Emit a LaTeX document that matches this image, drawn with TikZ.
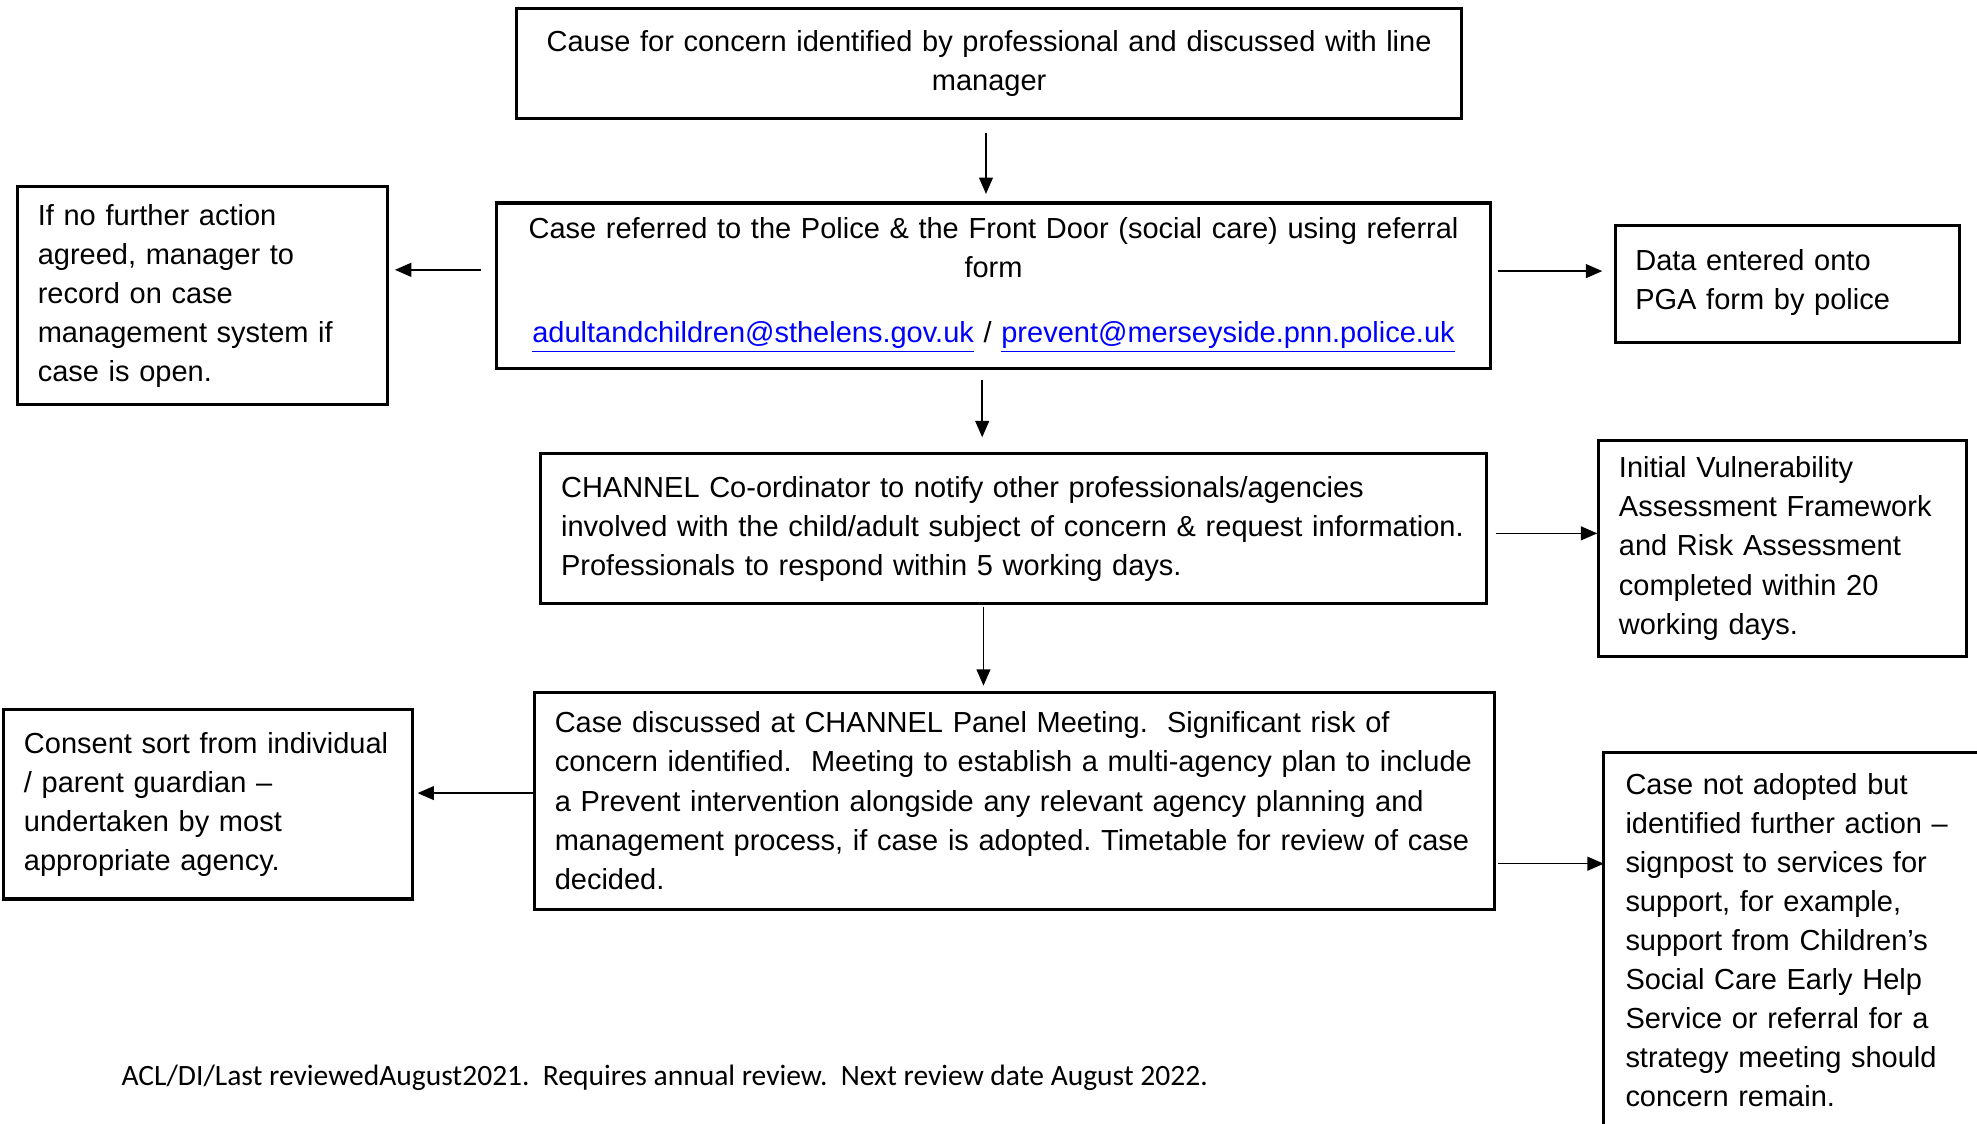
\documentclass[tikz,border=0pt]{standalone}
\usepackage{fontspec}
\setmainfont{Liberation Sans}
\newfontfamily\footfont{Carlito}
\usetikzlibrary{arrows.meta}
\newcommand{\boxfont}{\fontsize{11.5}{15.5}\selectfont\frenchspacing\hyphenpenalty=10000\relax}

\begin{document}
\begin{tikzpicture}[x=0.5pt, y=-0.5pt,
    box/.style={draw, line width=1.2pt, inner xsep=8pt, inner ysep=0pt, align=left, font=\boxfont},
    arr/.style={line width=0.6pt, -{Triangle[length=6.5pt,width=5.5pt]}}]
    \useasboundingbox (0,0) rectangle (1568,891);
    % Ablauf Mitte
    \node[box, align=center, text width=358.5pt, minimum height=43.5pt] (concern) at (784.5,50.5)
    {Cause for concern identified by professional and discussed with line\\manager};
    \node[box, align=center, text width=378pt, minimum height=65.5pt] (referral) at (788,226.5)
    {Case referred to the Police \& the Front Door (social care) using referral\\form\\[10pt]
    \textcolor{blue}{\underline{adultandchildren@sthelens.gov.uk}} / \textcolor{blue}{\underline{prevent@merseyside.pnn.police.uk}}};
    \node[box, text width=359pt, minimum height=59.5pt] (notify) at (804,419.5)
    {CHANNEL Co-ordinator to notify other professionals/agencies\\
    involved with the child/adult subject of concern \& request information.\\
    Professionals to respond within 5 working days.};
    \node[box, text width=364.5pt, minimum height=86pt] (panel) at (804.5,635)
    {Case discussed at CHANNEL Panel Meeting.~ Significant risk of\\
    concern identified.~ Meeting to establish a multi-agency plan to include\\
    a Prevent intervention alongside any relevant agency planning and\\
    management process, if case is adopted. Timetable for review of case\\
    decided.};
    % links
    \node[box, text width=130.5pt, minimum height=86.5pt] (nfa) at (160.5,234.5)
    {If no further action\\agreed, manager to\\record on case\\management system if\\case is open.};
    \node[box, text width=146pt, minimum height=75pt] (consent) at (165,638)
    {Consent sort from individual\\/ parent guardian --\\undertaken by most\\appropriate agency.};
    % rechts
    \node[box, text width=120.5pt, minimum height=46.5pt, text depth=19pt] (pga) at (1417.5,225.5)
    {Data entered onto\\PGA form by police};
    \node[box, text width=130pt, minimum height=86pt] (ivaf) at (1414,435)
    {Initial Vulnerability\\Assessment Framework\\and Risk Assessment\\completed within 20\\working days.};
    \node[box, draw=none, anchor=north west, inner ysep=7.5pt, text width=140pt] (notadopted) at (1272,597)
    {Case not adopted but\\identified further action --\\signpost to services for\\support, for example,\\support from Children's\\Social Care Early Help\\Service or referral for a\\strategy meeting should\\concern remain.};
    \draw[line width=1.2pt] (notadopted.north west) rectangle ++(340,340);
    % Pfeile
    \draw[arr, shorten <=5pt, shorten >=3pt] (concern.south -| 782,0) -- (referral.north -| 782,0);
    \draw[arr, shorten <=5.5pt, shorten >=2.5pt] (referral.west |- 0,214) -- (nfa.east |- 0,214);
    \draw[arr, shorten <=2.5pt, shorten >=4.5pt] (referral.east |- 0,215) -- (pga.west |- 0,215);
    \draw[arr, shorten <=4pt, shorten >=6pt] (referral.south -| 779,0) -- (notify.north -| 779,0);
    \draw[arr, shorten <=3pt] (notify.east |- 0,423) -- (ivaf.west |- 0,423);
    \draw[arr, shorten <=0.5pt, shorten >=2pt] (notify.south -| 780,0) -- (panel.north -| 780,0);
    \draw[arr, shorten >=1.5pt] (panel.west |- 0,629) -- (consent.east |- 0,629);
    \draw[arr, shorten <=1pt] (panel.east |- 0,685) -- (notadopted.west |- 0,685);
    % Fusszeile
    \node[anchor=west, inner sep=0pt, font=\footfont\fontsize{11.7}{13}\selectfont\frenchspacing] (footer) at (96,855)
    {ACL/DI/Last reviewedAugust2021.~ Requires annual review.~ Next review date August 2022.};
\end{tikzpicture}
\end{document}
